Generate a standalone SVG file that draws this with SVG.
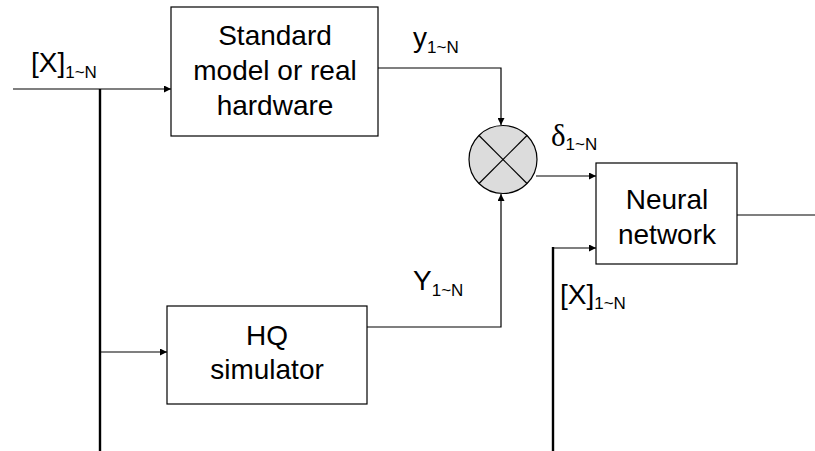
<svg xmlns="http://www.w3.org/2000/svg" width="815" height="451" viewBox="0 0 815 451">
<defs>
<marker id="arr" viewBox="0 0 10 10" refX="10" refY="5" markerWidth="9" markerHeight="7" markerUnits="userSpaceOnUse" orient="auto">
<path d="M0,0 L10,5 L0,10 z" fill="#000"/>
</marker>
</defs>
<style>
.box{fill:#fff;stroke:#000;stroke-width:1.2}
.ln{fill:none;stroke:#000;stroke-width:1.2}
.thick{fill:none;stroke:#000;stroke-width:2.4}
text{font-family:"Liberation Sans",Arial,sans-serif;font-size:28px;fill:#000}
.c{text-anchor:middle}
.sub{font-size:17px}
.greek{font-family:"Liberation Serif","Times New Roman",serif;font-size:31px}
</style>
<rect width="815" height="451" fill="#fff"/>
<g id="connectors">
<line class="thick" x1="100" y1="89" x2="100" y2="451"/>
<line class="ln" x1="13" y1="89" x2="171" y2="89" marker-end="url(#arr)"/>
<line class="ln" x1="100" y1="352" x2="167" y2="352" marker-end="url(#arr)"/>
<polyline class="ln" points="378,68 501,68 501,125" marker-end="url(#arr)"/>
<polyline class="ln" points="367,327 501,327 501,194" marker-end="url(#arr)"/>
<line class="ln" x1="536" y1="176" x2="596" y2="176" marker-end="url(#arr)"/>
<line class="thick" x1="553" y1="247" x2="553" y2="451"/>
<line class="ln" x1="553" y1="248" x2="596" y2="248" marker-end="url(#arr)"/>
<line class="ln" x1="737" y1="215" x2="815" y2="215"/>
</g>
<g id="standard">
<rect class="box" x="171" y="7" width="207" height="129"/>
<text class="c" x="275" y="45">Standard</text>
<text class="c" x="275" y="80">model or real</text>
<text class="c" x="275" y="115">hardware</text>
</g>
<g id="hq">
<rect class="box" x="167" y="306" width="200" height="98"/>
<text class="c" x="267" y="345">HQ</text>
<text class="c" x="267" y="379">simulator</text>
</g>
<g id="mixer">
<circle cx="503" cy="159.5" r="34" fill="#dcdcdc" stroke="#000" stroke-width="1.2"/>
<line class="ln" x1="479" y1="135.5" x2="527" y2="183.5"/>
<line class="ln" x1="527" y1="135.5" x2="479" y2="183.5"/>
</g>
<g id="neural">
<rect class="box" x="596" y="163" width="141" height="101"/>
<text class="c" x="667" y="209">Neural</text>
<text class="c" x="667" y="244">network</text>
</g>
<g id="labels">
<text x="31" y="72">[X]<tspan class="sub" dy="6">1~N</tspan></text>
<text x="413" y="47">y<tspan class="sub" dy="6">1~N</tspan></text>
<text x="551" y="146"><tspan class="greek">δ</tspan><tspan class="sub" dy="4">1~N</tspan></text>
<text x="413" y="290">Y<tspan class="sub" dy="6">1~N</tspan></text>
<text x="560" y="304">[X]<tspan class="sub" dy="5">1~N</tspan></text>
</g>
</svg>
